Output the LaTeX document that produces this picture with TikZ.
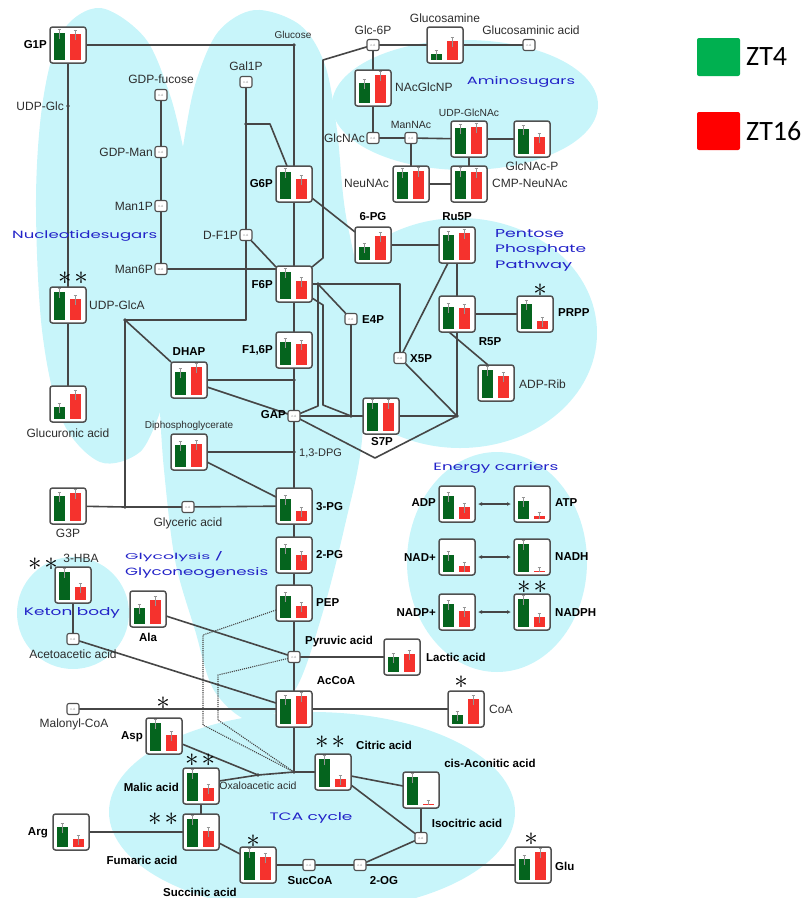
\documentclass[tikz,border=0pt]{standalone}
\usepackage{fontspec}
\setmainfont{Liberation Sans}
\newfontfamily\bluefont{Poppins}
\newfontfamily\legfont{Carlito}
\usepackage{graphicx}
\usetikzlibrary{calc,arrows.meta}
\definecolor{bgcyan}{RGB}{200,245,250}
\definecolor{boxgray}{RGB}{80,80,80}
\definecolor{linegray}{RGB}{70,70,70}
\definecolor{labgray}{RGB}{45,45,45}
\definecolor{gbar}{RGB}{5,100,30}
\definecolor{rbar}{RGB}{245,50,45}
\definecolor{ebar}{RGB}{150,150,150}
\definecolor{pblue}{RGB}{35,35,200}
\definecolor{zgreen}{RGB}{0,176,80}
\definecolor{zred}{RGB}{255,0,0}
\pgfdeclarelayer{bg}\pgfdeclarelayer{lines}\pgfsetlayers{bg,lines,main}
\newcommand{\bchart}[5]{%
  \node[bcbox] (#1) at (#2,#3) {};
  \fill[gbar] ({#2-14.5},{#3+15}) rectangle ({#2-3.5},{#3+15-#4});
  \fill[rbar] ({#2+1.5},{#3+15}) rectangle ({#2+12.5},{#3+15-#5});
  \draw[errb] ({#2-9},{#3+15-#4+min(6,#4)}) -- ({#2-9},{#3+11-#4}) ({#2-10.5},{#3+11-#4}) -- ({#2-7.5},{#3+11-#4});
  \draw[errb] ({#2+7},{#3+15-#5+min(6,#5)}) -- ({#2+7},{#3+11-#5}) ({#2+5.5},{#3+11-#5}) -- ({#2+8.5},{#3+11-#5});
}
\newcommand{\ndb}[3]{\node[ndbox] (#1) at (#2,#3) {n.d.};}
\newcommand{\jd}[3]{\coordinate (#1) at (#2,#3);}
\newcommand{\sone}{\scalebox{2.7}{$\ast$}}
\newcommand{\stwo}{\sone\hspace{3pt}\sone}
\newcommand{\bl}[2]{\resizebox{#1pt}{8pt}{\bluefont #2}}
\begin{document}
\begin{tikzpicture}[x=1pt,y=-1pt,
  bcbox/.style={draw=boxgray, line width=1.5pt, rounded corners=2.5pt, fill=white, minimum size=36pt, inner sep=0pt, outer sep=0pt},
  ndbox/.style={draw=boxgray, line width=1.1pt, rounded corners=2pt, fill=white, minimum width=12pt, minimum height=11pt, inner sep=0pt, outer sep=0pt, font=\fontsize{3}{3}\selectfont, text=gray},
  errb/.style={draw=ebar, line width=0.5pt},
  conn/.style={draw=linegray, line width=1.6pt, line join=round},
  dotl/.style={draw=linegray, line width=1.1pt, densely dotted},
  lab/.style={font=\fontsize{12}{12}\selectfont, text=labgray, inner sep=1pt},
  blab/.style={font=\bfseries\fontsize{11.5}{12}\selectfont, text=black, inner sep=1pt},
  slab/.style={font=\fontsize{10}{10}\selectfont, text=labgray, inner sep=1pt},
  blue/.style={text=pblue, inner sep=0pt},
  sig/.style={inner sep=0pt, text=black},
  dotmark/.style={fill=linegray}]
\useasboundingbox (0,0) rectangle (811,898);
% ---------------- backgrounds
\begin{pgfonlayer}{bg}
\begin{scope}
\clip (0,0) rectangle (811,898);
\fill[bgcyan] plot[smooth, tension=0.55] coordinates {(183,147) (170,95) (145,38) (100,8) (62,32) (43,100) (36,200) (42,330) (62,420) (100,462) (140,452) (160,412)}
  -- plot[smooth, tension=0.55] coordinates {(160,412) (164,470) (175,560) (195,630) (215,692) (255,722) (295,690) (322,615) (345,525) (362,440) (365,320) (345,210) (337,130) (325,65) (300,25) (255,10) (218,32) (195,85) (183,147)} -- cycle;
\fill[bgcyan] (465,105) ellipse [x radius=133pt, y radius=65pt];
\fill[bgcyan] (460,333) ellipse [x radius=137pt, y radius=115pt];
\fill[bgcyan] (497,562) ellipse [x radius=90pt, y radius=110pt];
\fill[bgcyan] (73,613) circle [radius=56pt];
\fill[bgcyan] (312,812) ellipse [x radius=203pt, y radius=100pt];
\end{scope}
\end{pgfonlayer}
% ---------------- bar chart boxes
\bchart{G1P}{68}{45}{27}{26}
\bchart{G6P}{294}{184}{27}{20}
\bchart{F6P}{294}{284}{27}{18}
\bchart{F16P}{294}{350}{23}{21}
\bchart{DHAP}{189}{380}{23}{28}
\bchart{UDPGlcA}{68}{305}{28}{21}
\bchart{GlcA}{68}{404}{12}{25}
\bchart{DPG}{189}{452}{22}{23}
\bchart{G3P}{68}{506}{25}{28}
\bchart{PGthree}{294}{506}{22}{10}
\bchart{PGtwo}{294}{555}{22}{15}
\bchart{PEP}{294}{603}{22}{12}
\bchart{AcCoA}{294}{709}{25}{28}
\bchart{HBA}{73}{585}{28}{13}
\bchart{Ala}{148}{609}{16}{24}
\bchart{GlcN}{445}{45}{6}{19}
\bchart{NAcGlcNP}{373}{88}{20}{28}
\bchart{UDPGlcNAc}{469}{139}{26}{27}
\bchart{GlcNAcP}{532}{139}{25}{17}
\bchart{NeuNAc}{411}{184}{27}{28}
\bchart{CMPNeuNAc}{469}{184}{28}{27}
\bchart{PGsix}{373}{245}{13}{24}
\bchart{Ru5P}{457}{245}{25}{27}
\bchart{R5P}{457}{314}{22}{21}
\bchart{PRPP}{535}{314}{25}{8}
\bchart{ADPRib}{496}{383}{28}{22}
\bchart{S7P}{381}{416}{28}{28}
\bchart{ADP}{457}{504}{23}{12}
\bchart{ATP}{532}{504}{18}{3}
\bchart{NAD}{457}{557}{17}{6}
\bchart{NADH}{532}{557}{28}{0.7}
\bchart{NADP}{457}{612}{23}{16}
\bchart{NADPH}{532}{612}{28}{10}
\bchart{Lac}{402}{657}{15}{18}
\bchart{CoA}{466}{709}{9}{25}
\bchart{Cit}{333}{772}{28}{8}
\bchart{Acon}{421}{790}{28}{0.7}
\bchart{Glu}{533}{865}{21}{28}
\bchart{Asp}{164}{736}{28}{16}
\bchart{Mal}{201}{786}{28}{13}
\bchart{Fum}{201}{832}{28}{16}
\bchart{Arg}{71}{832}{20}{8}
\bchart{Suc}{258}{865}{28}{23}
% ---------------- n.d. boxes
\ndb{GDPfuc}{161}{95}
\ndb{GDPMan}{161}{152}
\ndb{ManOneP}{161}{206}
\ndb{ManSixP}{161}{269}
\ndb{GalOneP}{246}{82}
\ndb{DFOneP}{246}{235}
\ndb{GlcSixP}{373}{45}
\ndb{GlcNacid}{529}{45}
\ndb{GlcNAc}{373}{138}
\ndb{ManNAc}{411}{138}
\ndb{E4P}{351}{319}
\ndb{X5P}{400}{358}
\ndb{GAP}{294}{416}
\ndb{Glyc}{188}{507}
\ndb{Pyr}{294}{657}
\ndb{AcAc}{73}{639}
\ndb{MalCoA}{73}{709}
\ndb{SucCoA}{309}{865}
\ndb{OG}{360}{865}
\ndb{Iso}{421}{838}
% ---------------- junctions
\jd{glucose}{294}{45}
\jd{udpglc}{68}{106}
\jd{galdot}{246}{124}
\jd{galbend}{270}{124}
\jd{dnode}{125}{320}
\jd{dbend}{246}{320}
\jd{dhapdot}{294}{380}
\jd{dpgdot}{294}{452}
\jd{gthreedot}{125}{507}
\jd{fsixdot}{318}{284}
\jd{xfivebend}{400}{284}
\jd{efourdot}{351}{416}
\jd{ppjunc}{457}{416}
\jd{vtip}{375}{458}
\jd{gapbend}{318}{406}
\jd{glcbendA}{323}{60}
\jd{glcbendB}{323}{258}
\jd{fsixbendA}{323}{305}
\jd{fsixbendB}{323}{405}
\jd{oaadot}{258}{775}
\jd{oaajunc}{294}{772}
\jd{dA}{203}{635}
\jd{dB}{203}{725}
\jd{dC}{218}{675}
\jd{dD}{218}{720}
\foreach \p in {glucose,udpglc,galdot,dnode,dhapdot,dpgdot,gthreedot,fsixdot,efourdot,ppjunc,oaadot,oaajunc}
  \fill[dotmark] (\p) circle (1.8pt);
% ---------------- connectors
\begin{pgfonlayer}{lines}
\draw[conn] (G1P) -- (glucose) -- (G6P);
\draw[conn] (G6P) -- (F6P) -- (F16P) -- (dhapdot) -- (GAP) -- (dpgdot) -- (PGthree) -- (PGtwo) -- (PEP) -- (Pyr) -- (AcCoA) -- (oaajunc);
\draw[conn] (G1P) -- (udpglc) -- (UDPGlcA) -- (GlcA);
\draw[conn] (GDPfuc) -- (GDPMan) -- (ManOneP) -- (ManSixP) -- (ManSixP -| F6P.west);
\draw[conn] (GalOneP) -- (galdot) -- (DFOneP) -- (dbend) -- (dnode) -- (gthreedot);
\draw[conn] (galdot) -- (galbend) -- ([xshift=11pt]G6P.north west);
\draw[conn] (DFOneP) -- ([yshift=-1pt]F6P.north west);
\draw[conn] (dnode) -- (DHAP.north west);
\draw[conn] (DHAP) -- (dhapdot);
\draw[conn] ([yshift=11pt]DHAP.south east) -- (GAP);
\draw[conn] ([yshift=4pt]G6P.south east) -- ([yshift=-5pt]PGsix.north west);
\draw[conn] (PGsix) -- (Ru5P) -- (R5P) -- (ppjunc);
\draw[conn] (R5P) -- (PRPP);
\draw[conn] ([xshift=10pt]R5P.south west) -- ([xshift=10pt]ADPRib.north west);
\draw[conn] (X5P) -- ([xshift=9pt]Ru5P.south west);
\draw[conn] (X5P) -- (ppjunc);
\draw[conn] (F6P) -- (fsixdot) -- (xfivebend) -- (X5P);
\draw[conn] (fsixdot) -- (E4P) -- (efourdot);
\draw[conn] (fsixdot) -- (gapbend) -- (GAP);
\draw[conn] (GlcSixP) -- (glcbendA) -- (glcbendB) -- ([yshift=-1pt]F6P.north east);
\draw[conn] ([yshift=4pt]F6P.south east) -- (fsixbendA) -- (fsixbendB) -- (efourdot);
\draw[conn] (GAP) -- (efourdot) -- (S7P) -- (ppjunc);
\draw[conn] (GAP) -- (vtip) -- (ppjunc);
\draw[conn] (GlcSixP) -- (GlcN) -- (GlcNacid);
\draw[conn] (GlcSixP) -- (NAcGlcNP) -- (GlcNAc) -- (ManNAc) -- (UDPGlcNAc) -- (GlcNAcP);
\draw[conn] (ManNAc) -- (ManNAc |- NeuNAc.north);
\draw[conn] (NeuNAc) -- (CMPNeuNAc) -- (UDPGlcNAc);
\draw[conn] (DPG) -- (dpgdot);
\draw[conn] ([yshift=8pt]DPG.south east) -- ([yshift=-9pt]PGthree.north west);
\draw[conn] (G3P) -- (gthreedot) -- (Glyc) -- (PGthree);
\draw[conn] ([yshift=-7pt]Ala.east) -- (Pyr);
\draw[conn] (HBA) -- (AcAc);
\draw[conn] (AcAc) -- ([yshift=6pt]AcCoA.west);
\draw[conn] (MalCoA) -- (AcCoA);
\draw[conn] (Pyr) -- (Lac);
\draw[conn] (AcCoA) -- (CoA);
\draw[conn] ([yshift=10pt]Asp.south east) -- (oaadot);
\draw[conn] ([yshift=-13pt]Mal.north east) -- (oaadot) -- (oaajunc) -- (Cit);
\draw[conn] ([yshift=-4pt]Cit.east) -- ([yshift=4pt]Acon.west);
\draw[conn] ([yshift=5pt]Cit.south east) -- (Iso);
\draw[conn] (Acon) -- (Iso) -- (OG) -- (SucCoA) -- (Suc);
\draw[conn] (OG) -- (Glu);
\draw[conn] ([yshift=7pt]Fum.south east) -- ([yshift=-7pt]Suc.north west);
\draw[conn] (Mal) -- (Fum);
\draw[conn] (Arg) -- (Fum);
\draw[dotl] ([yshift=-7pt]PEP.west) -- (dA) -- (dB) -- (oaajunc);
\draw[dotl] (Pyr) -- (dC) -- (dD) -- (oaajunc);
\foreach \a/\b in {ADP/ATP,NAD/NADH,NADP/NADPH}
  \draw[draw=linegray, line width=1.4pt, {Latex[length=4pt,width=4pt]}-{Latex[length=4pt,width=4pt]}, shorten >=3pt, shorten <=3pt] (\a) -- (\b);
\end{pgfonlayer}
% ---------------- labels
\node[blab, anchor=east] (lG1P) at (48,45) {G1P};
\node[slab] (lglucose) at (293,35) {Glucose};
\node[lab, anchor=east] (lUDPGlc) at (65,106) {UDP-Glc};
\node[lab] (lGDPfuc) at (161,79) {GDP-fucose};
\node[lab, anchor=east] (lGDPMan) at (154,152) {GDP-Man};
\node[lab, anchor=east] (lMan1P) at (154,206) {Man1P};
\node[lab, anchor=east] (lMan6P) at (154,269) {Man6P};
\node[lab] (lGal1P) at (246,66) {Gal1P};
\node[lab, anchor=east] (lDF1P) at (239,235) {D-F1P};
\node[blab, anchor=east] (lG6P) at (274,184) {G6P};
\node[blab, anchor=east] (lF6P) at (274,285) {F6P};
\node[blab, anchor=east] (lF16P) at (274,350) {F1,6P};
\node[blab] (lDHAP) at (189,352) {DHAP};
\node[lab, anchor=west] (lUDPGlcA) at (88,305) {UDP-GlcA};
\node[lab] (lGlcA) at (68,433) {Glucuronic acid};
\node[slab] (lDPG) at (189,426) {Diphosphoglycerate};
\node[lab, font=\fontsize{11}{11}\selectfont, anchor=west] (l13DPG) at (298,453) {1,3-DPG};
\node[blab, anchor=east] (lGAP) at (287,415) {GAP};
\node[lab] (lG3P) at (68,533) {G3P};
\node[lab] (lGlyc) at (188,523) {Glyceric acid};
\node[blab, anchor=west] (l3PG) at (315,507) {3-PG};
\node[blab, anchor=west] (l2PG) at (315,555) {2-PG};
\node[blab, anchor=west] (lPEP) at (315,603) {PEP};
\node[lab] (lHBA) at (81,558) {3-HBA};
\node[lab] (lAcAc) at (73,654) {Acetoacetic acid};
\node[blab] (lAla) at (148,637) {Ala};
\node[blab] (lPyr) at (339,642) {Pyruvic acid};
\node[blab, anchor=west] (lLac) at (425,657) {Lactic acid};
\node[blab] (lAcCoA) at (336,681) {AcCoA};
\node[lab, anchor=west] (lCoA) at (488,709) {CoA};
\node[lab] (lMalCoA) at (74,724) {Malonyl-CoA};
\node[blab, anchor=east] (lAsp) at (144,737) {Asp};
\node[blab, anchor=east] (lMal) at (180,787) {Malic acid};
\node[lab, font=\fontsize{10.5}{10.5}\selectfont] (lOAA) at (258,786) {Oxaloacetic acid};
\node[blab, anchor=east] (lArg) at (49,833) {Arg};
\node[blab] (lFum) at (142,860) {Fumaric acid};
\node[blab] (lSuc) at (200,892) {Succinic acid};
\node[blab] (lSucCoA) at (310,881) {SucCoA};
\node[blab] (lOG) at (384,881) {2-OG};
\node[blab, anchor=west] (lGlu) at (554,866) {Glu};
\node[blab] (lIso) at (467,823) {Isocitric acid};
\node[blab] (lAcon) at (490,763) {cis-Aconitic acid};
\node[blab] (lCit) at (384,745) {Citric acid};
\node[blab, anchor=east] (lADP) at (437,503) {ADP};
\node[blab, anchor=west] (lATP) at (554,503) {ATP};
\node[blab, anchor=east] (lNAD) at (437,558) {NAD+};
\node[blab, anchor=west] (lNADH) at (554,557) {NADH};
\node[blab, anchor=east] (lNADP) at (437,613) {NADP+};
\node[blab, anchor=west] (lNADPH) at (554,613) {NADPH};
\node[lab, anchor=west] (lADPRib) at (518,384) {ADP-Rib};
\node[blab] (lR5P) at (490,342) {R5P};
\node[blab, anchor=west] (lPRPP) at (557,313) {PRPP};
\node[blab, anchor=west] (lX5P) at (409,359) {X5P};
\node[blab, anchor=west] (lE4P) at (361,320) {E4P};
\node[blab] (lS7P) at (382,442) {S7P};
\node[blab] (l6PG) at (373,217) {6-PG};
\node[blab] (lRu5P) at (457,217) {Ru5P};
\node[lab, anchor=west] (lNAcGlcNP) at (394,87) {NAcGlcNP};
\node[lab] (lGlc6P) at (373,30) {Glc-6P};
\node[lab] (lGlcN) at (445,18) {Glucosamine};
\node[lab] (lGlcNacid) at (531,30) {Glucosaminic acid};
\node[lab, anchor=east] (lGlcNAc) at (366,138) {GlcNAc};
\node[slab, font=\fontsize{10.5}{10.5}\selectfont] (lManNAc) at (411,125) {ManNAc};
\node[slab, font=\fontsize{10.3}{10.3}\selectfont] (lUDPGlcNAc) at (469,113) {UDP-GlcNAc};
\node[lab] (lGlcNAcP) at (532,166) {GlcNAc-P};
\node[lab, anchor=east] (lNeuNAc) at (390,183) {NeuNAc};
\node[lab, anchor=west] (lCMPNeuNAc) at (491,183) {CMP-NeuNAc};
% ---------------- pathway names
\node[blue, anchor=west] (bNuc) at (12,236) {\bl{145}{Nucleotidesugars}};
\node[blue] (bAmino) at (521,82) {\bl{108}{Aminosugars}};
\node[blue, anchor=west] (bPen1) at (495,234) {\bl{69}{Pentose}};
\node[blue, anchor=west] (bPen2) at (495,250) {\bl{91}{Phosphate}};
\node[blue, anchor=west] (bPen3) at (495,266) {\bl{77}{Pathway}};
\node[blue] (bEnergy) at (496,468) {\bl{125}{Energy carriers}};
\node[blue, anchor=west] (bGly1) at (125,557) {\bl{98}{Glycolysis /}};
\node[blue, anchor=west] (bGly2) at (125,573) {\bl{143}{Glyconeogenesis}};
\node[blue] (bKeton) at (72,613) {\bl{96}{Keton body}};
\node[blue] (bTCA) at (311,818) {\bl{83}{TCA cycle}};
% ---------------- significance marks
\node[sig] (sUDPGlcA) at (73,278) {\stwo};
\node[sig] (sHBA) at (43,564) {\stwo};
\node[sig] (sNADPH) at (532,587) {\stwo};
\node[sig] (sMal) at (200,760) {\stwo};
\node[sig] (sFum) at (163,819) {\stwo};
\node[sig] (sCit) at (330,742) {\stwo};
\node[sig] (sPRPP) at (540,290) {\sone};
\node[sig] (sCoA) at (461,682) {\sone};
\node[sig] (sMalCoA) at (163,703) {\sone};
\node[sig] (sSuc) at (253,841) {\sone};
\node[sig] (sGlu) at (531,839) {\sone};
% ---------------- legend
\node[fill=zgreen, rounded corners=2pt, minimum width=43pt, minimum height=38pt, inner sep=0pt] (leg4) at (718.5,57) {};
\node[fill=zred, rounded corners=2pt, minimum width=43pt, minimum height=38pt, inner sep=0pt] (leg16) at (718.5,131) {};
\node[anchor=west, font=\legfont\fontsize{28}{28}\selectfont, inner sep=0pt] (lleg4) at (746,57) {ZT4};
\node[anchor=west, font=\legfont\fontsize{28}{28}\selectfont, inner sep=0pt] (lleg16) at (746,131) {ZT16};
\end{tikzpicture}
\end{document}
